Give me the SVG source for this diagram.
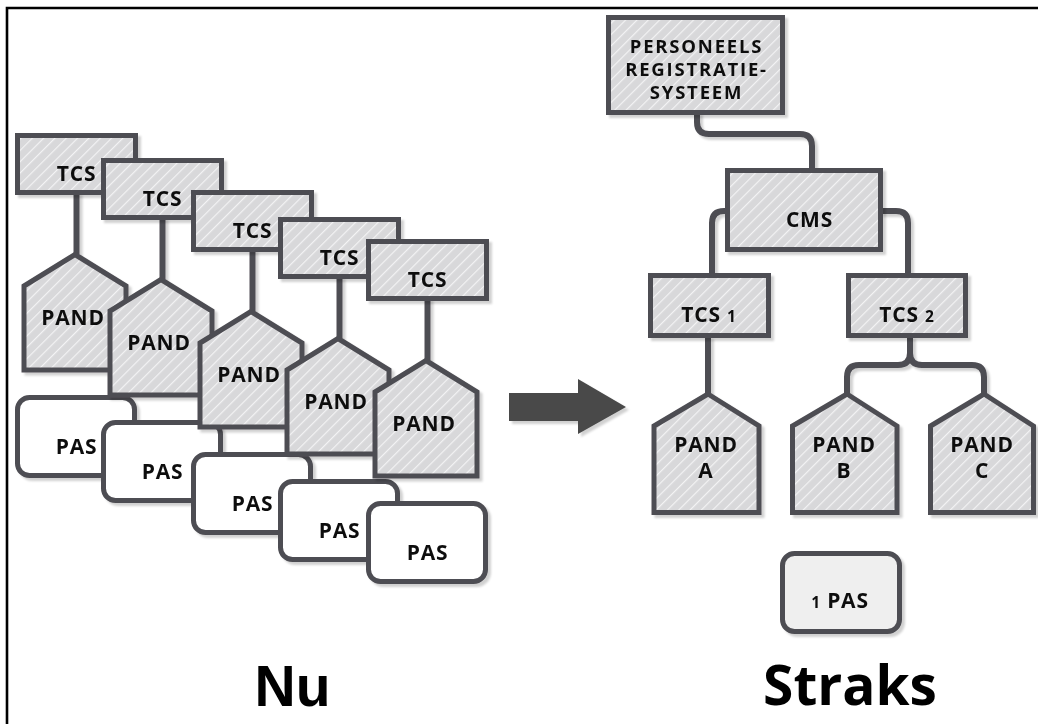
<svg xmlns="http://www.w3.org/2000/svg" width="1038" height="724" viewBox="0 0 1038 724">
<style>
.n{fill:url(#hatch);stroke:#4e4d53;stroke-width:5;stroke-linejoin:miter}
.p{fill:#ffffff;stroke:#4e4d53;stroke-width:5}
.p1{fill:#efefef;stroke:#4e4d53;stroke-width:5}
.c{fill:none;stroke:#4e4d53;stroke-width:6}
.t{font-family:"Open Sans","Liberation Sans",sans-serif;font-weight:bold;font-size:21px;fill:#111;text-anchor:middle;letter-spacing:0.8px}
.s{font-size:18.5px;letter-spacing:1.8px}
.d{font-size:15.5px}
.big{font-weight:bold;fill:#000;text-anchor:middle}
</style>
<defs>
<pattern id="hatch" width="8" height="8" patternUnits="userSpaceOnUse" patternTransform="rotate(45)">
<rect width="8" height="8" fill="#d8d8da"/>
<line x1="0" y1="0" x2="0" y2="8" stroke="#f3f3f4" stroke-width="2.4"/>
</pattern>
<filter id="sh" x="-10%" y="-10%" width="130%" height="130%">
<feDropShadow dx="3" dy="3" stdDeviation="1" flood-color="#000" flood-opacity="0.18"/>
</filter>
</defs>
<rect width="1038" height="724" fill="#ffffff"/>
<path d="M7,724 V8 H1038" fill="none" stroke="#000" stroke-width="2.6"/>

<g id="connectors" filter="url(#sh)">
<path class="c" d="M76.5,192 V254"/>
<path class="c" d="M162.5,217 V279"/>
<path class="c" d="M252.5,249 V311"/>
<path class="c" d="M339.5,276 V338"/>
<path class="c" d="M427.5,298 V360"/>
<path class="c" d="M697,112 V122 Q697,134 709,134 H800 Q812,134 812,146 V172"/>
<path class="c" d="M728,211 H724 Q712,211 712,223 V277"/>
<path class="c" d="M880,211 H896 Q908,211 908,223 V277"/>
<path class="c" d="M708,336 V395"/>
<path class="c" d="M910,336 V353 Q910,365 898,365 H859 Q847,365 847,377 V395"/>
<path class="c" d="M910,353 Q910,365 922,365 H972 Q984,365 984,377 V395"/>
</g>

<g id="col1" filter="url(#sh)">
<g id="tcs-a"><rect class="n" x="17.5" y="135.5" width="118" height="57"/><text class="t" x="76.5" y="181">TCS</text></g>
<g id="pand-a"><path class="n" d="M75,254.5 L126,286 V370 H24 V286 Z"/><text class="t" x="73" y="325">PAND</text></g>
<g id="pas-a"><rect class="p" x="17.5" y="397.5" width="117" height="78" rx="12"/><text class="t" x="76.5" y="454">PAS</text></g>
</g>
<g id="col2" filter="url(#sh)">
<g id="tcs-b"><rect class="n" x="103.5" y="160.5" width="118" height="57"/><text class="t" x="162.5" y="206">TCS</text></g>
<g id="pand-b"><path class="n" d="M161,279.5 L212,311 V395 H110 V311 Z"/><text class="t" x="159" y="350">PAND</text></g>
<g id="pas-b"><rect class="p" x="103.5" y="422.5" width="117" height="78" rx="12"/><text class="t" x="162.5" y="479">PAS</text></g>
</g>
<g id="col3" filter="url(#sh)">
<g id="tcs-c"><rect class="n" x="193.5" y="192.5" width="118" height="57"/><text class="t" x="252.5" y="238">TCS</text></g>
<g id="pand-c"><path class="n" d="M251,311.5 L302,343 V427 H200 V343 Z"/><text class="t" x="249" y="382">PAND</text></g>
<g id="pas-c"><rect class="p" x="193.5" y="454.5" width="117" height="78" rx="12"/><text class="t" x="252.5" y="511">PAS</text></g>
</g>
<g id="col4" filter="url(#sh)">
<g id="tcs-d"><rect class="n" x="280.5" y="219.5" width="118" height="57"/><text class="t" x="339.5" y="265">TCS</text></g>
<g id="pand-d"><path class="n" d="M338,338.5 L389,370 V454 H287 V370 Z"/><text class="t" x="336" y="409">PAND</text></g>
<g id="pas-d"><rect class="p" x="280.5" y="481.5" width="117" height="78" rx="12"/><text class="t" x="339.5" y="538">PAS</text></g>
</g>
<g id="col5" filter="url(#sh)">
<g id="tcs-e"><rect class="n" x="368.5" y="241.5" width="118" height="57"/><text class="t" x="427.5" y="287">TCS</text></g>
<g id="pand-e"><path class="n" d="M426,360.5 L477,392 V476 H375 V392 Z"/><text class="t" x="424" y="431">PAND</text></g>
<g id="pas-e"><rect class="p" x="368.5" y="503.5" width="117" height="78" rx="12"/><text class="t" x="427.5" y="560">PAS</text></g>
</g>

<g id="arrow" filter="url(#sh)">
<polygon points="509,393 578,393 578,379 626,407 578,434 578,421 509,421" fill="#4a4a4a"/>
</g>

<g id="prs" filter="url(#sh)">
<rect class="n" x="608.5" y="17.5" width="174" height="95"/>
<text class="t s" x="696.5" y="53"><tspan x="696.5" y="53">PERSONEELS</tspan><tspan x="696.5" y="76">REGISTRATIE-</tspan><tspan x="696.5" y="99">SYSTEEM</tspan></text>
</g>
<g id="cms" filter="url(#sh)">
<rect class="n" x="727.5" y="170.5" width="153" height="79"/>
<text class="t" x="809.5" y="227">CMS</text>
</g>
<g id="tcs1" filter="url(#sh)">
<rect class="n" x="650.5" y="275.5" width="118" height="60"/>
<text class="t" x="709" y="322">TCS <tspan class="d">1</tspan></text>
</g>
<g id="tcs2" filter="url(#sh)">
<rect class="n" x="848.5" y="275.5" width="117" height="60"/>
<text class="t" x="907" y="322">TCS <tspan class="d">2</tspan></text>
</g>
<g id="pandA" filter="url(#sh)">
<path class="n" d="M708,394 L759,426 V512.5 H654 V426 Z"/>
<text class="t" x="706" y="452">PAND</text>
<text class="t" x="706" y="478">A</text>
</g>
<g id="pandB" filter="url(#sh)">
<path class="n" d="M847,394 L897,426 V512.5 H792.5 V426 Z"/>
<text class="t" x="844" y="452">PAND</text>
<text class="t" x="844" y="478">B</text>
</g>
<g id="pandC" filter="url(#sh)">
<path class="n" d="M984,394 L1033.5,426 V512.5 H930.5 V426 Z"/>
<text class="t" x="982" y="452">PAND</text>
<text class="t" x="982" y="478">C</text>
</g>
<g id="pas1" filter="url(#sh)">
<rect class="p1" x="782.5" y="553.5" width="117" height="78" rx="12"/>
<text class="t" x="840" y="608"><tspan class="d">1</tspan> PAS</text>
</g>

<text class="big" x="292.5" y="706" font-family="'Liberation Sans',Arial,sans-serif" font-size="57">Nu</text>
<text class="big" x="850" y="705" font-family="'Open Sans','Liberation Sans',sans-serif" font-size="55">Straks</text>
</svg>
